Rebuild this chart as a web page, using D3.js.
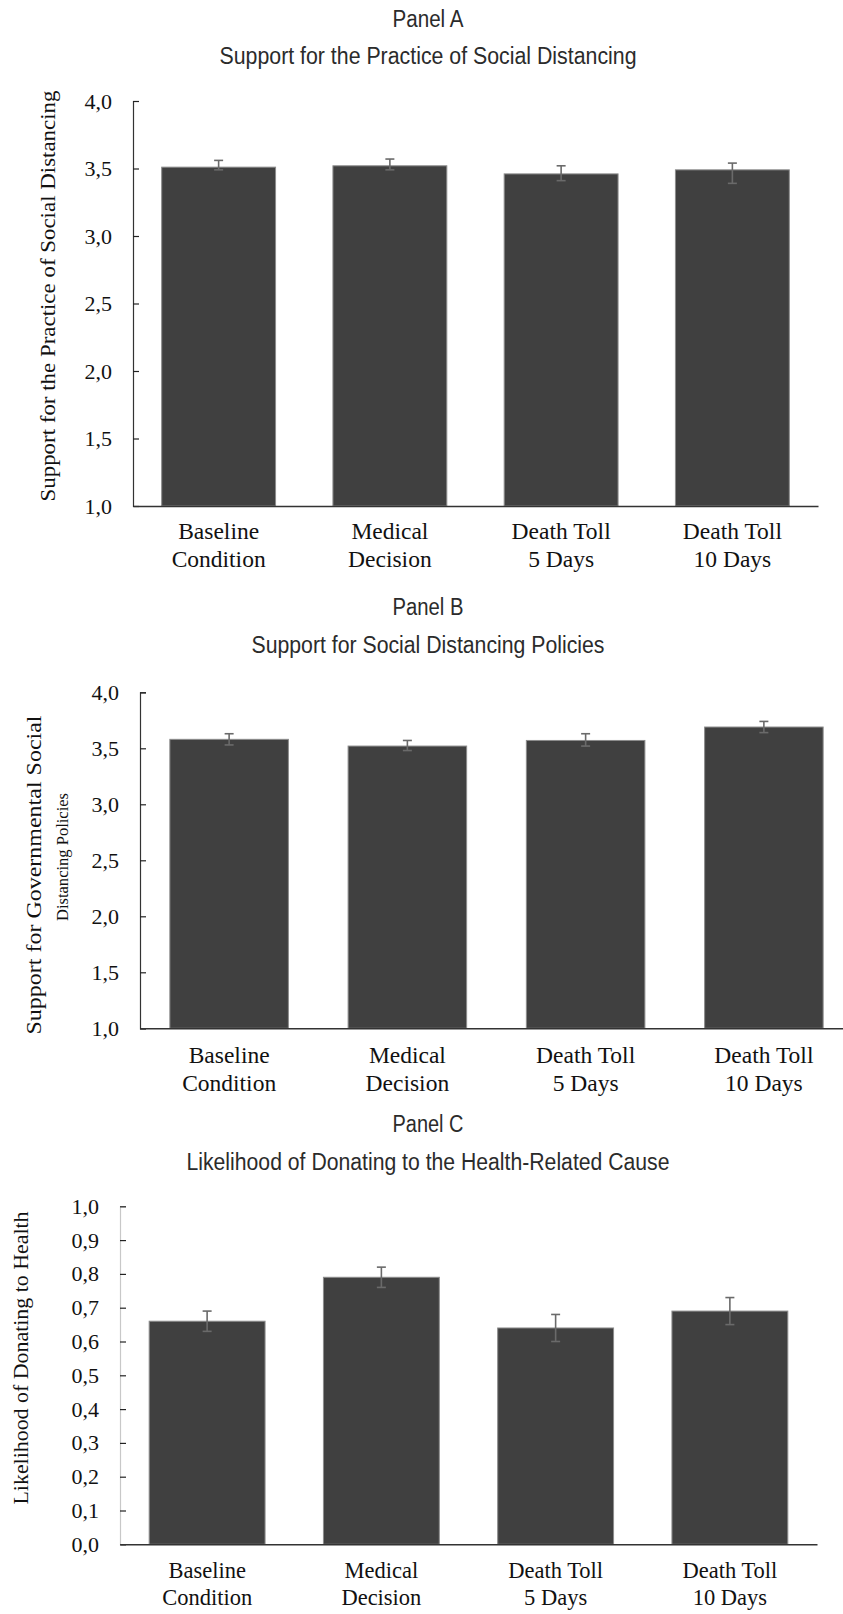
<!DOCTYPE html>
<html>
<head>
<meta charset="utf-8">
<script src="https://cdnjs.cloudflare.com/ajax/libs/d3/7.8.5/d3.min.js"></script>
<style>
    body { margin: 0; background: #fff; }
    svg { display: block; }
    .title { font-family: "Liberation Sans Narrow", "Arial Narrow", "Liberation Sans", sans-serif; fill: #2b2b2b; text-anchor: middle; }
    .axis text { font-family: "Liberation Serif", "Times New Roman", serif; fill: #111; }
    .ylabel { font-family: "Liberation Serif", "Times New Roman", serif; fill: #111; text-anchor: middle; }
</style>
</head>
<body>
<svg id="chart" width="843" height="1614"></svg>
<script>
// conditions on the x axis, two lines each
const conditions = ["Baseline Condition", "Medical Decision", "Death Toll 5 Days", "Death Toll 10 Days"];
const conditionLines = [["Baseline", "Condition"], ["Medical", "Decision"], ["Death Toll", "5 Days"], ["Death Toll", "10 Days"]];

// Panel A - support for the practice of social distancing
const practiceMeans = [3.51, 3.52, 3.46, 3.49];
const practiceLow = [3.49, 3.49, 3.41, 3.39];
const practiceHigh = [3.56, 3.57, 3.52, 3.54];
const practiceTicks = [1.0, 1.5, 2.0, 2.5, 3.0, 3.5, 4.0];

// Panel B - support for social distancing policies
const policyMeans = [3.58, 3.52, 3.57, 3.69];
const policyLow = [3.53, 3.48, 3.52, 3.64];
const policyHigh = [3.63, 3.57, 3.63, 3.74];
const policyTicks = [1.0, 1.5, 2.0, 2.5, 3.0, 3.5, 4.0];

// Panel C - likelihood of donating to the health-related cause
const donateMeans = [0.66, 0.79, 0.64, 0.69];
const donateLow = [0.63, 0.76, 0.60, 0.65];
const donateHigh = [0.69, 0.82, 0.68, 0.73];
const donateTicks = [0.0, 0.1, 0.2, 0.3, 0.4, 0.5, 0.6, 0.7, 0.8, 0.9, 1.0];

const locale = d3.formatLocale({ decimal: ",", thousands: ".", grouping: [3], currency: ["", ""] });
const fmt = locale.format(".1f");

const svg = d3.select("#chart");

function drawPanel(p) {
    const g = svg.append("g");

    const x = d3.scaleBand()
        .domain(conditions)
        .range([p.left, p.right])
        .paddingInner(0.335)
        .paddingOuter(0.1675);

    const y = d3.scaleLinear()
        .domain(p.domain)
        .range([p.bottom, p.top]);

    // titles
    g.append("text")
        .attr("class", "title")
        .attr("x", 428)
        .attr("y", p.panelY)
        .attr("font-size", 23)
        .attr("textLength", 71)
        .attr("lengthAdjust", "spacingAndGlyphs")
        .text(p.panel);

    g.append("text")
        .attr("class", "title")
        .attr("x", 428)
        .attr("y", p.titleY)
        .attr("font-size", 23)
        .attr("textLength", p.titleWidth)
        .attr("lengthAdjust", "spacingAndGlyphs")
        .text(p.title);

    // bars
    const rows = conditions.map((c, i) => ({ c, mean: p.means[i], lo: p.low[i], hi: p.high[i] }));

    g.append("g")
        .selectAll("rect")
        .data(rows)
        .join("rect")
        .attr("x", d => x(d.c))
        .attr("y", d => y(d.mean))
        .attr("width", x.bandwidth())
        .attr("height", d => y(p.domain[0]) - y(d.mean))
        .attr("fill", "#404040")
        .attr("stroke", "#8c8c8c")
        .attr("stroke-width", 1);

    // error bars
    const err = g.append("g")
        .attr("stroke", "#6a6a6a")
        .attr("stroke-width", 1.6)
        .selectAll("g")
        .data(rows)
        .join("g")
        .attr("transform", d => `translate(${x(d.c) + x.bandwidth() / 2},0)`);

    err.append("line").attr("y1", d => y(d.lo)).attr("y2", d => y(d.hi));
    err.append("line").attr("x1", -4.5).attr("x2", 4.5).attr("y1", d => y(d.hi)).attr("y2", d => y(d.hi));
    err.append("line").attr("x1", -4.5).attr("x2", 4.5).attr("y1", d => y(d.lo)).attr("y2", d => y(d.lo));

    // y axis, ticks pointing inward
    const yAxis = g.append("g")
        .attr("class", "axis")
        .attr("transform", `translate(${p.left},0)`)
        .call(d3.axisLeft(y).tickValues(p.ticks).tickFormat(fmt).tickSize(-6).tickPadding(21));
    yAxis.select(".domain").attr("stroke", p.yAxisColor).attr("stroke-width", 1.2);
    yAxis.selectAll(".tick line").attr("stroke", "#222").attr("stroke-width", 1.2);
    yAxis.selectAll(".tick text").attr("font-size", 22);

    // x axis, labels on two lines
    const xAxis = g.append("g")
        .attr("class", "axis")
        .attr("transform", `translate(0,${p.bottom})`)
        .call(d3.axisBottom(x).tickSize(0).tickSizeOuter(0));
    xAxis.select(".domain").attr("stroke", "#333").attr("stroke-width", 1.4);
    xAxis.selectAll(".tick text")
        .attr("font-size", p.xLabelSize)
        .attr("y", 0)
        .attr("dy", null)
        .text(null)
        .selectAll("tspan")
        .data((d, i) => conditionLines[i])
        .join("tspan")
        .attr("x", 0)
        .attr("y", (d, i) => p.xLabelY + i * p.xLabelGap)
        .text(d => d);

    // y axis label
    p.yLabels.forEach(l => {
        g.append("text")
            .attr("class", "ylabel")
            .attr("transform", `translate(${l.x},${l.y}) rotate(-90)`)
            .attr("font-size", l.size)
            .attr("textLength", l.len)
            .attr("lengthAdjust", "spacingAndGlyphs")
            .text(l.text);
    });
}

drawPanel({
    panel: "Panel A", panelY: 27,
    title: "Support for the Practice of Social Distancing", titleY: 64, titleWidth: 417,
    means: practiceMeans, low: practiceLow, high: practiceHigh, ticks: practiceTicks,
    domain: [1, 4], left: 133, right: 818, top: 101, bottom: 506,
    yAxisColor: "#333", xLabelY: 33, xLabelGap: 28, xLabelSize: 23.5,
    yLabels: [{ text: "Support for the Practice of Social Distancing", x: 55, y: 296, size: 21, len: 411 }]
});

drawPanel({
    panel: "Panel B", panelY: 615,
    title: "Support for Social Distancing Policies", titleY: 653, titleWidth: 353,
    means: policyMeans, low: policyLow, high: policyHigh, ticks: policyTicks,
    domain: [1, 4], left: 140, right: 853, top: 692.3, bottom: 1028.3,
    yAxisColor: "#333", xLabelY: 35, xLabelGap: 28, xLabelSize: 23.5,
    yLabels: [
        { text: "Support for Governmental Social", x: 41, y: 875, size: 20, len: 319 },
        { text: "Distancing Policies", x: 68, y: 857, size: 16, len: 128 }
    ]
});

drawPanel({
    panel: "Panel C", panelY: 1132,
    title: "Likelihood of Donating to the Health-Related Cause", titleY: 1170, titleWidth: 483,
    means: donateMeans, low: donateLow, high: donateHigh, ticks: donateTicks,
    domain: [0, 1], left: 120, right: 817, top: 1206.3, bottom: 1544.3,
    yAxisColor: "#c8c8c8", xLabelY: 34, xLabelGap: 27, xLabelSize: 22.5,
    yLabels: [{ text: "Likelihood of Donating to Health", x: 28, y: 1358, size: 21, len: 293 }]
});
</script>
</body>
</html>
